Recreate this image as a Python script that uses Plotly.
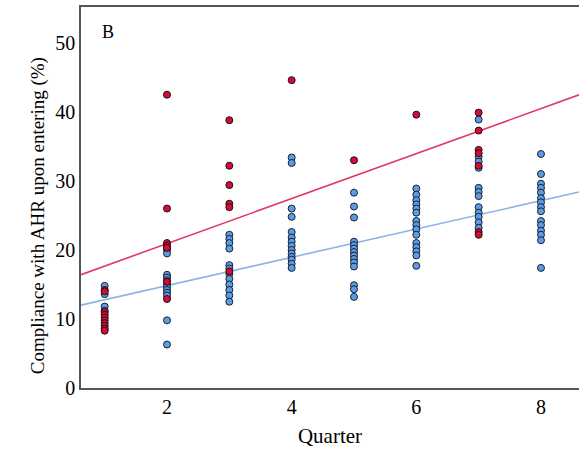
import plotly.graph_objects as go

# Quarter positions
quarters = [1, 2, 3, 4, 5, 6, 7, 8]

# Red group values per quarter
red_q1 = [14.2, 14.0, 11.0, 10.6, 10.2, 9.8, 9.4, 9.0, 8.6, 8.3]
red_q2 = [42.5, 26.0, 21.0, 20.6, 20.3, 15.4, 12.9]
red_q3 = [38.8, 32.2, 29.4, 26.7, 26.2, 16.9]
red_q4 = [44.6]
red_q5 = [33.0]
red_q6 = [39.6]
red_q7 = [39.9, 37.3, 34.5, 34.0, 32.2, 22.6, 22.2]
red_q8 = []

# Blue group values per quarter
blue_q1 = [14.8, 13.6, 11.8, 11.2]
blue_q2 = [20.0, 19.5, 16.4, 16.0, 15.6, 15.0, 14.6, 14.2, 13.8, 13.4, 9.8, 6.3]
blue_q3 = [22.2, 21.6, 21.0, 20.2, 17.8, 17.3, 16.5, 15.8, 15.0, 14.2, 13.4, 12.5]
blue_q4 = [33.4, 32.6, 26.0, 24.8, 22.6, 21.8, 21.2, 20.6, 20.0, 19.5, 19.0, 18.6, 18.0, 17.4]
blue_q5 = [28.3, 26.3, 24.7, 21.2, 20.7, 20.2, 19.7, 19.2, 18.7, 18.2, 17.6, 14.9, 14.3, 13.2]
blue_q6 = [28.9, 28.0, 27.2, 26.6, 26.0, 25.4, 24.2, 23.6, 23.0, 22.2, 21.0, 20.4, 19.8, 19.2, 17.7]
blue_q7 = [38.9, 33.5, 32.8, 31.9, 29.0, 28.4, 27.8, 26.2, 25.4, 24.8, 24.0, 23.2]
blue_q8 = [33.9, 31.0, 29.6, 29.0, 28.3, 27.5, 26.9, 26.2, 25.6, 24.2, 23.6, 22.8, 22.2, 21.4, 17.4]

# Fitted regression lines (intercept, slope)
red_fit = [14.4, 3.26]
blue_fit = [10.74, 2.05]

x_range = [0.62, 8.61]
y_range = [0, 55.2]

red_groups = [red_q1, red_q2, red_q3, red_q4, red_q5, red_q6, red_q7, red_q8]
blue_groups = [blue_q1, blue_q2, blue_q3, blue_q4, blue_q5, blue_q6, blue_q7, blue_q8]

def flatten(groups):
    xs, ys = [], []
    for q, vals in zip(quarters, groups):
        xs += [q] * len(vals)
        ys += vals
    return xs, ys

bx, by = flatten(blue_groups)
rx, ry = flatten(red_groups)

RED = "#cc0f38"
BLUE = "#5f9be0"
RED_LINE = "#e03a62"
BLUE_LINE = "#8db4e6"
FONT = "Liberation Serif"

fig = go.Figure()
fig.add_trace(go.Scatter(
    x=x_range, y=[red_fit[0] + red_fit[1] * v for v in x_range],
    mode="lines", line=dict(color=RED_LINE, width=1.6), showlegend=False))
fig.add_trace(go.Scatter(
    x=x_range, y=[blue_fit[0] + blue_fit[1] * v for v in x_range],
    mode="lines", line=dict(color=BLUE_LINE, width=1.6), showlegend=False))
fig.add_trace(go.Scatter(
    x=bx, y=by, mode="markers",
    marker=dict(size=7, color=BLUE, line=dict(color="#142238", width=1)),
    showlegend=False))
fig.add_trace(go.Scatter(
    x=rx, y=ry, mode="markers",
    marker=dict(size=7, color=RED, line=dict(color="#30070f", width=1)),
    showlegend=False))

fig.add_annotation(text="B", x=0.038, y=0.934, xref="paper", yref="paper",
                   xanchor="left", yanchor="middle", showarrow=False,
                   font=dict(family=FONT, size=18, color="black"))

fig.add_annotation(text="Compliance with AHR upon entering (%)", textangle=-90,
                   x=-0.0863, y=0.451, xref="paper", yref="paper",
                   xanchor="center", yanchor="middle", showarrow=False,
                   font=dict(family=FONT, size=19, color="black"))

fig.update_layout(
    width=579, height=449,
    margin=dict(l=81, r=0, t=7, b=61, autoexpand=False),
    paper_bgcolor="white", plot_bgcolor="white",
    font=dict(family=FONT, size=20, color="black"),
    xaxis=dict(range=x_range, tickvals=[2, 4, 6, 8], showgrid=False, zeroline=False,
               automargin=False,
               showline=True, linecolor="#555555", linewidth=1.5, mirror=True,
               ticks="",
               tickfont=dict(family=FONT, size=20),
               title=dict(text="Quarter", font=dict(family=FONT, size=21), standoff=12)),
    yaxis=dict(range=y_range, tickvals=[0, 10, 20, 30, 40, 50], showgrid=False, zeroline=False,
               automargin=False,
               showline=True, linecolor="#555555", linewidth=1.5, mirror=False,
               ticks="",
               tickfont=dict(family=FONT, size=20)),
)

fig.write_html("out.html", post_script="document.body.style.margin='0';",
               config={"displayModeBar": False})
